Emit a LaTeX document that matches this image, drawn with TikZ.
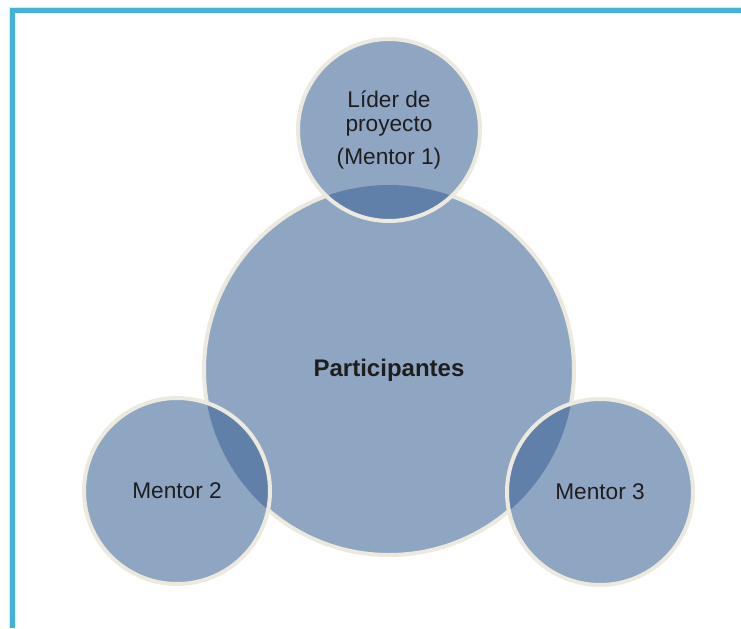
\documentclass[tikz,border=0pt]{standalone}
\usepackage{fontspec}
\setmainfont{Liberation Sans}
\definecolor{frameblue}{RGB}{64,180,216}
\definecolor{bubblefill}{RGB}{62,101,152}
\definecolor{rimcream}{RGB}{236,234,222}
\definecolor{labeltext}{RGB}{30,30,30}
\tikzset{
  bubble/.style={circle, fill=bubblefill, fill opacity=0.58, text opacity=1,
    draw=rimcream, line width=3pt, text=labeltext,
    font=\fontsize{17}{18}\selectfont, align=center, inner sep=0pt},
  rim/.style={draw=rimcream, line width=3pt}
}

\begin{document}
\begin{tikzpicture}[x=0.75pt,y=-0.75pt]
\useasboundingbox (0,0) rectangle (741,628);

% frame
\draw[gray!20, line width=0.75pt] (9,7) -- (741,7) (9,7) -- (9,628);
\fill[frameblue] (10,8) rectangle (741,13);
\fill[frameblue] (10,8) rectangle (15,628);

% circles
\node[bubble, draw=none, minimum size=277.5pt, font=\fontsize{18}{20}\selectfont\bfseries] (part) at (389,370) {Participantes};
\node[bubble, minimum size=136.5pt] (lider) at (389,130) {Líder de\\proyecto\\[7pt](Mentor 1)};
\node[bubble, minimum size=139.5pt] (mentorB) at (177,491) {Mentor 2};
\node[bubble, minimum size=139.5pt] (mentorC) at (600,492) {Mentor 3};

% rim of the centre circle, outside the mentors only
\begin{scope}[even odd rule]
  \clip (0,0) rectangle (741,628)
    (lider.center) circle[radius=91]
    (mentorB.center) circle[radius=93]
    (mentorC.center) circle[radius=93];
  \draw[rim] (part.center) circle[radius=185];
\end{scope}

\end{tikzpicture}
\end{document}
